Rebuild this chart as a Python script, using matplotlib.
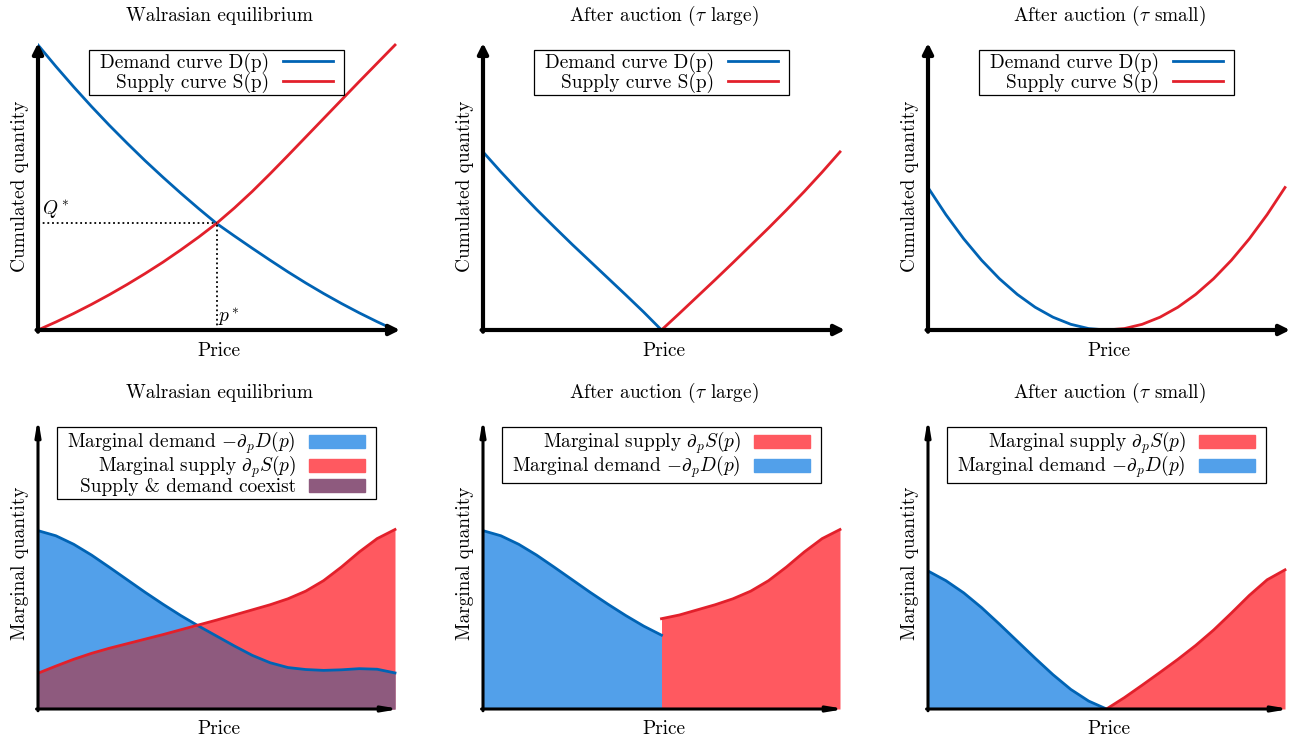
import numpy as np
import matplotlib
matplotlib.use("Agg")
import matplotlib.pyplot as plt
from matplotlib.patches import Patch, Rectangle
from matplotlib.lines import Line2D

plt.rcParams["font.family"] = "serif"
plt.rcParams["font.serif"] = ["cmr10", "DejaVu Serif"]
plt.rcParams["mathtext.fontset"] = "cm"
plt.rcParams["axes.unicode_minus"] = False
plt.rcParams["axes.formatter.use_mathtext"] = True

# ---- data (price normalised to [0, 1]) ----
price = np.linspace(0, 1, 21)
half_left = np.linspace(0, 0.5, 11)
half_right = np.linspace(0.5, 1, 11)

# top-left: cumulated curves
demand_cum = [1.0, 0.925, 0.853, 0.784, 0.718, 0.655, 0.594, 0.536, 0.480, 0.426, 0.374,
              0.330, 0.287, 0.245, 0.204, 0.165, 0.128, 0.093, 0.060, 0.029, 0.0]
supply_cum = [0.0, 0.028, 0.058, 0.090, 0.124, 0.160, 0.198, 0.238, 0.281, 0.326, 0.374,
              0.428, 0.486, 0.548, 0.612, 0.677, 0.742, 0.807, 0.872, 0.936, 1.0]
p_star = 0.5
q_star = 0.374

# top-middle: after auction, tau large
demand_cum_large = [0.625, 0.555, 0.488, 0.423, 0.361, 0.300, 0.241, 0.182, 0.123, 0.063, 0.0]
supply_cum_large = [0.0, 0.058, 0.117, 0.176, 0.236, 0.297, 0.358, 0.421, 0.486, 0.554, 0.625]

# top-right: after auction, tau small
demand_cum_small = [0.5, 0.405, 0.32, 0.245, 0.18, 0.125, 0.08, 0.045, 0.02, 0.005, 0.0]
supply_cum_small = [0.0, 0.005, 0.02, 0.045, 0.08, 0.125, 0.18, 0.245, 0.32, 0.405, 0.5]

# bottom-left: marginal curves
demand_marg = [0.628, 0.610, 0.580, 0.542, 0.499, 0.455, 0.411, 0.369, 0.329, 0.292, 0.257,
               0.222, 0.189, 0.163, 0.146, 0.139, 0.136, 0.138, 0.142, 0.140, 0.127]
supply_marg = [0.126, 0.151, 0.175, 0.196, 0.214, 0.230, 0.246, 0.262, 0.279, 0.296, 0.313,
               0.331, 0.349, 0.367, 0.388, 0.415, 0.452, 0.500, 0.553, 0.600, 0.632]

# bottom-middle: tau large (curves cut at the auction price)
demand_marg_large = [0.628, 0.610, 0.580, 0.542, 0.499, 0.455, 0.411, 0.369, 0.329, 0.292, 0.260]
supply_marg_large = [0.318, 0.331, 0.349, 0.367, 0.388, 0.415, 0.452, 0.500, 0.553, 0.600, 0.632]

# bottom-right: tau small
demand_marg_small = [0.486, 0.452, 0.409, 0.357, 0.299, 0.239, 0.179, 0.121, 0.069, 0.028, 0.0]
supply_marg_small = [0.0, 0.040, 0.084, 0.129, 0.175, 0.224, 0.278, 0.338, 0.400, 0.455, 0.490]

BLUE = "#0063B4"
RED = "#E2202B"
BLUE_FILL = "#52A0EA"
RED_FILL = "#FF5960"
PURPLE = "#8E5A7E"
FS = 13.9

W, H = 1293, 740
fig = plt.figure(figsize=(W / 100, H / 100), dpi=100)

lefts = [38, 483, 928]
axes_top = []
axes_bot = []
for l in lefts:
    axes_top.append(fig.add_axes([l / W, 1 - 330 / H, 362 / W, 287 / H]))
    axes_bot.append(fig.add_axes([l / W, 1 - 709 / H, 362 / W, 291 / H]))


def setup(ax, ylabel, title, lw, head, ymax, pad, xpad):
    ax.set_xlim(0, 362 / 357)
    ax.set_ylim(0, ymax)
    for s in ax.spines.values():
        s.set_visible(False)
    ax.set_xticks([])
    ax.set_yticks([])
    ax.annotate("", xy=(1.0, 0), xytext=(-0.004, 0), xycoords="axes fraction",
                arrowprops=dict(arrowstyle=head, lw=lw, color="k", shrinkA=0, shrinkB=0),
                annotation_clip=False)
    ax.annotate("", xy=(0, 1.0), xytext=(0, -0.006), xycoords="axes fraction",
                arrowprops=dict(arrowstyle=head, lw=lw, color="k", shrinkA=0, shrinkB=0),
                annotation_clip=False)
    ax.set_xlabel("Price", fontsize=FS, labelpad=xpad)
    ax.set_ylabel(ylabel, fontsize=FS, labelpad=6.5)
    ax.set_title(title, fontsize=FS, pad=pad)


legends = []


def add_legend(ax, handles, labels, y, hlen, hheight, spacing):
    leg = ax.legend(handles, labels, loc="upper center", bbox_to_anchor=(0.493, y),
                    markerfirst=False, fontsize=FS, frameon=False, borderpad=0.25,
                    labelspacing=spacing, handlelength=hlen, handleheight=hheight,
                    handletextpad=0.7, borderaxespad=0)
    legends.append((ax, leg))


titles = ["Walrasian equilibrium", r"After auction ($\tau$ large)", r"After auction ($\tau$ small)"]

# ---- top row: cumulated quantities ----
top_data = [
    (price, demand_cum, price, supply_cum),
    (half_left, demand_cum_large, half_right, supply_cum_large),
    (half_left, demand_cum_small, half_right, supply_cum_small),
]
for ax, title, (xd, yd, xs, ys) in zip(axes_top, titles, top_data):
    setup(ax, "Cumulated quantity", title, 3.0, "-|>,head_length=0.6,head_width=0.3",
          287 / 285, 16, 8.5)
    ax.plot(xd, yd, color=BLUE, lw=2)
    ax.plot(xs, ys, color=RED, lw=2)
    handles = [Line2D([], [], color=BLUE, lw=2), Line2D([], [], color=RED, lw=2)]
    add_legend(ax, handles, ["Demand curve D(p)", "Supply curve S(p)"], 0.984, 2.6, 0.7, 0.0)

ax = axes_top[0]
ax.plot([0, p_star], [q_star, q_star], color="k", lw=1.3, ls=(0, (1, 1.6)))
ax.plot([p_star, p_star], [0, q_star], color="k", lw=1.3, ls=(0, (1, 1.6)))
ax.text(0.01, q_star + 0.012, r"$Q^*$", fontsize=FS, ha="left", va="bottom")
ax.text(p_star + 0.005, 0.003, r"$p^*$", fontsize=FS, ha="left", va="bottom")

# ---- bottom row: marginal quantities ----
for ax, title in zip(axes_bot, titles):
    setup(ax, "Marginal quantity", title, 2.2, "-|>,head_length=0.9,head_width=0.15",
          291 / 284, 14.5, 8)

ax = axes_bot[0]
ax.fill_between(price, demand_marg, color=BLUE_FILL, lw=0)
ax.fill_between(price, supply_marg, color=RED_FILL, lw=0)
ax.fill_between(price, np.minimum(demand_marg, supply_marg), color=PURPLE, lw=0)
ax.plot(price, demand_marg, color=BLUE, lw=2)
ax.plot(price, supply_marg, color=RED, lw=2)
handles = [Patch(color=BLUE_FILL), Patch(color=RED_FILL), Patch(color=PURPLE)]
add_legend(ax, handles, [r"Marginal demand $-\partial_p D(p)$", r"Marginal supply $\partial_p S(p)$",
                         "Supply & demand coexist"], 0.976, 2.9, 0.64, -0.12)

bot_data = [
    (demand_marg_large, supply_marg_large),
    (demand_marg_small, supply_marg_small),
]
for ax, (yd, ys) in zip(axes_bot[1:], bot_data):
    ax.fill_between(half_left, yd, color=BLUE_FILL, lw=0)
    ax.fill_between(half_right, ys, color=RED_FILL, lw=0)
    ax.plot(half_left, yd, color=BLUE, lw=2)
    ax.plot(half_right, ys, color=RED, lw=2)
    handles = [Patch(color=RED_FILL), Patch(color=BLUE_FILL)]
    add_legend(ax, handles, [r"Marginal supply $\partial_p S(p)$",
                             r"Marginal demand $-\partial_p D(p)$"], 0.976, 2.9, 0.64, -0.12)

# legend frames: wider horizontal padding than vertical, as in the original
fig.canvas.draw()
for ax, leg in legends:
    bb = leg.get_window_extent()
    padx, pady = 6, -2
    rect = Rectangle(((bb.x0 - padx) / W, (bb.y0 - pady) / H),
                     (bb.width + 2 * padx) / W, (bb.height + 2 * pady) / H,
                     transform=fig.transFigure, facecolor="white", edgecolor="k",
                     lw=0.9, zorder=4.5, clip_on=False)
    ax.add_patch(rect)

fig.savefig("out.png", dpi=100)
